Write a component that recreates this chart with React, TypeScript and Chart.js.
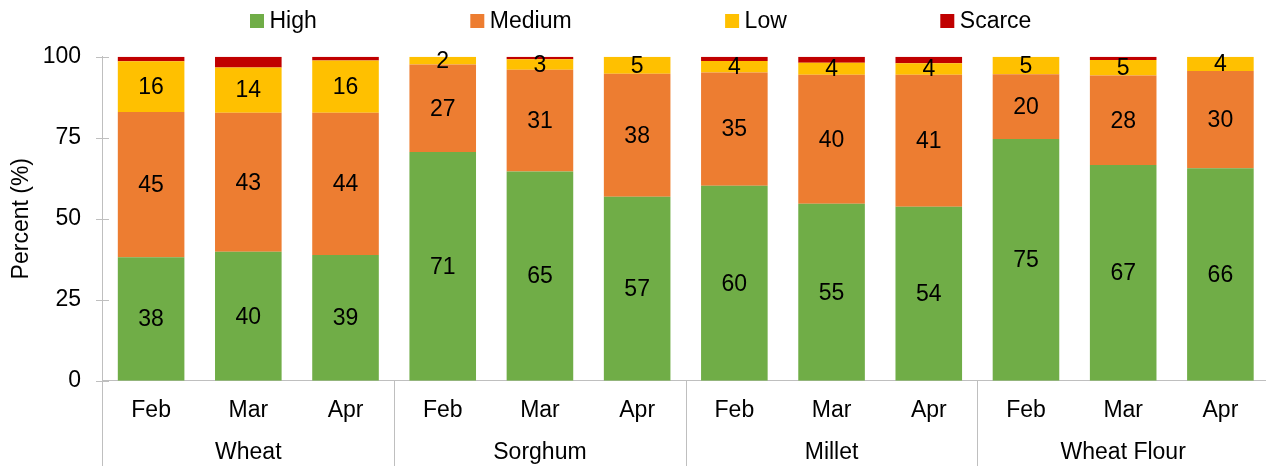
import React, { useEffect, useRef } from "react";
import { Chart, registerables } from "chart.js";

Chart.register(...registerables);

const groups = ["Wheat", "Sorghum", "Millet", "Wheat Flour"];
const months = ["Feb", "Mar", "Apr"];
const categories = groups.flatMap(() => months);

const high = [38.1, 39.8, 38.8, 70.6, 64.6, 56.8, 60.2, 54.6, 53.7, 74.6, 66.6, 65.6];
const medium = [44.8, 42.9, 43.9, 27.0, 31.4, 37.9, 34.9, 39.8, 40.7, 20.0, 27.6, 30.0];
const low = [15.7, 14.0, 16.1, 2.4, 3.2, 5.3, 3.6, 3.7, 3.6, 5.4, 4.8, 4.4];
const scarce = [1.4, 3.3, 1.2, 0, 0.8, 0, 1.3, 1.9, 2.0, 0, 1.0, 0];

const seriesNames = ["High", "Medium", "Low", "Scarce"];
const seriesValues = [high, medium, low, scarce];
const seriesColors = ["#70AD47", "#ED7D31", "#FFC000", "#C00000"];
const labeledSeries = [true, true, true, false];
const yTicks = [0, 25, 50, 75, 100];
const yTitle = "Percent (%)";

const FONT = "'Liberation Sans', Arial, sans-serif";
const FONT_SIZE = 23;
const AXIS_COLOR = "#BFBFBF";

export default function App() {
  const ref = useRef<HTMLCanvasElement>(null);

  useEffect(() => {
    const canvas = ref.current;
    if (!canvas) return;

    const decor = {
      id: "decor",
      afterDatasetsDraw(chart: any) {
        const ctx = chart.ctx;
        ctx.save();
        ctx.font = `${FONT_SIZE}px ${FONT}`;
        ctx.fillStyle = "#000";
        ctx.textAlign = "center";
        ctx.textBaseline = "middle";
        chart.data.datasets.forEach((ds: any, di: number) => {
          if (!labeledSeries[di]) return;
          const meta = chart.getDatasetMeta(di);
          meta.data.forEach((el: any, i: number) => {
            const v = ds.data[i];
            if (!v) return;
            const p = el.getProps(["x", "y", "base"], true);
            ctx.fillText(String(Math.round(v)), p.x, (p.y + p.base) / 2 + 1);
          });
        });
        ctx.restore();
      },
      afterDraw(chart: any) {
        const ctx = chart.ctx;
        const { left, top, bottom } = chart.chartArea;
        const xs = chart.scales.x;
        const ys = chart.scales.y;
        ctx.save();
        ctx.strokeStyle = AXIS_COLOR;
        ctx.lineWidth = 1;
        // cross tick marks on y axis
        yTicks.forEach((t) => {
          const py = Math.round(ys.getPixelForValue(t)) + 0.5;
          ctx.beginPath();
          ctx.moveTo(left - 6.5, py);
          ctx.lineTo(left + 6.5, py);
          ctx.stroke();
        });
        // group separators and group labels
        const half = (xs.getPixelForValue(1) - xs.getPixelForValue(0)) / 2;
        const n = months.length;
        const bounds: number[] = [];
        for (let g = 0; g <= groups.length; g++) {
          bounds.push(xs.getPixelForValue(g * n) - half);
        }
        bounds.forEach((bx) => {
          const px = Math.round(bx) + 0.5;
          ctx.beginPath();
          ctx.moveTo(px, bottom);
          ctx.lineTo(px, chart.height);
          ctx.stroke();
        });
        ctx.font = `${FONT_SIZE}px ${FONT}`;
        ctx.fillStyle = "#000";
        ctx.textAlign = "center";
        ctx.textBaseline = "middle";
        groups.forEach((g, gi) => {
          const cx = (bounds[gi] + bounds[gi + 1]) / 2;
          ctx.fillText(g, cx, 453);
        });
        // y title
        ctx.save();
        ctx.translate(22, (top + bottom) / 2);
        ctx.rotate(-Math.PI / 2);
        ctx.fillText(yTitle, 0, 0);
        ctx.restore();
        // legend
        ctx.textAlign = "left";
        let x = 250;
        seriesNames.forEach((name, i) => {
          ctx.fillStyle = seriesColors[i];
          ctx.fillRect(x, 14, 14, 14);
          ctx.fillStyle = "#000";
          ctx.fillText(name, x + 19.5, 22);
          x += 19.5 + ctx.measureText(name).width + 153.5;
        });
        ctx.restore();
      },
    };

    const chart = new Chart(canvas, {
      type: "bar",
      data: {
        labels: categories,
        datasets: seriesNames.map((name, i) => ({
          label: name,
          data: seriesValues[i],
          backgroundColor: seriesColors[i],
          borderWidth: 0,
          barPercentage: 0.685,
          categoryPercentage: 1,
        })),
      },
      options: {
        responsive: false,
        animation: false,
        devicePixelRatio: 1,
        layout: { padding: { top: 56.7, right: 0, bottom: 0, left: 0 } },
        plugins: {
          legend: { display: false },
          tooltip: { enabled: false },
        },
        scales: {
          x: {
            stacked: true,
            offset: true,
            grid: { display: false, drawTicks: false },
            border: { display: true, color: AXIS_COLOR },
            ticks: {
              color: "#000",
              font: { size: FONT_SIZE, family: FONT },
              padding: 16,
              maxRotation: 0,
              autoSkip: false,
            },
            afterFit(s: any) {
              s.height = 85.3;
            },
          },
          y: {
            stacked: true,
            min: 0,
            max: 100,
            grid: { display: false, drawTicks: false },
            border: { display: true, color: AXIS_COLOR },
            ticks: {
              stepSize: 25,
              color: "#000",
              font: { size: FONT_SIZE, family: FONT },
              padding: 21.5,
            },
            afterFit(s: any) {
              s.width = 102.5;
            },
          },
        },
      },
      plugins: [decor],
    });

    return () => chart.destroy();
  }, []);

  return (
    <div
      style={{
        position: "fixed",
        left: 0,
        top: 0,
        width: 1266,
        height: 466,
        overflow: "hidden",
        background: "#fff",
      }}
    >
      <canvas ref={ref} width={1269} height={466} style={{ display: "block" }} />
    </div>
  );
}
